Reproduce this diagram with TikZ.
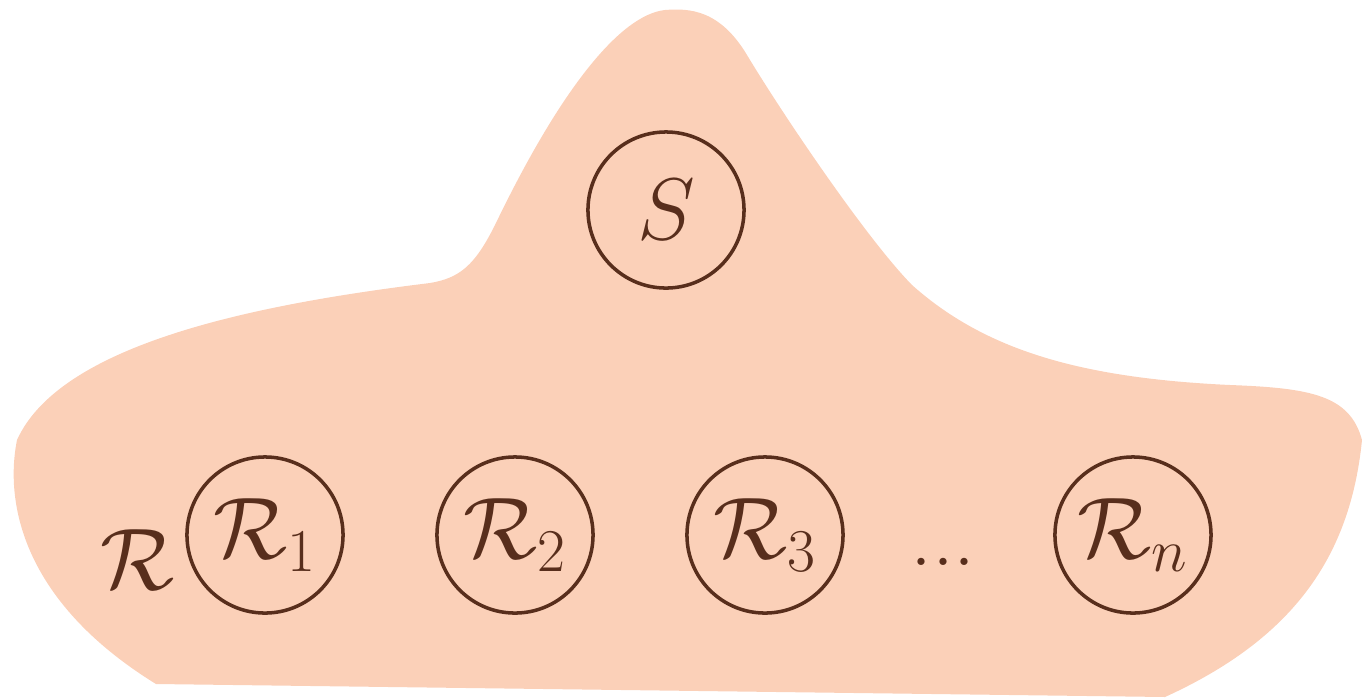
\documentclass[tikz,border=0pt]{standalone}
\definecolor{blobfill}{RGB}{251,208,184}
\definecolor{ink}{RGB}{88,46,28}
\tikzset{
  agent/.style={circle, draw=ink, line width=1pt, minimum size=1.56cm, inner sep=0pt, text=ink, font=\fontsize{25}{30}\selectfont},
  lab/.style={text=ink, inner sep=0pt, font=\fontsize{25}{30}\selectfont}
}
\begin{document}
\begin{tikzpicture}[x=0.01cm, y=-0.01cm]
\useasboundingbox (0,0) rectangle (1362,699);
\fill[blobfill] (156,684) -- (1165,697)
  .. controls (1290,640) and (1350,560) .. (1362,440)
  .. controls (1350,395) and (1310,388) .. (1230,385)
  .. controls (1080,378) and (985,350) .. (912,285)
  .. controls (865,237) and (780,110) .. (747,55)
  .. controls (720,10) and (690,8) .. (665,10)
  .. controls (620,15) and (560,90) .. (495,225)
  .. controls (475,265) and (460,278) .. (430,283)
  .. controls (250,305) and (60,345) .. (17,440)
  .. controls (5,500) and (20,600) .. (156,684) -- cycle;
\node[agent] (S) at (666,210) {$S$};
\node[agent] (R1) at (265,535) {$\mathcal{R}_1$};
\node[agent] (R2) at (515,535) {$\mathcal{R}_2$};
\node[agent] (R3) at (765,535) {$\mathcal{R}_3$};
\node[agent] (Rn) at (1133,535) {$\mathcal{R}_n$};
\node[lab] (R) at (138,560) {$\mathcal{R}$};
\node[lab] (dots) at (943,562) {...};
\end{tikzpicture}
\end{document}
